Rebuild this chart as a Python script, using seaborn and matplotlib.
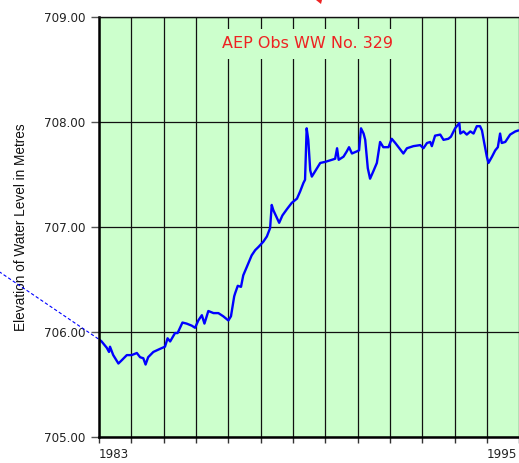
import matplotlib
matplotlib.use("Agg")
import matplotlib.pyplot as plt
from matplotlib.patches import Polygon
import pandas as pd
import seaborn as sns

# Observation well hydrograph (decimal year, water level elevation in metres)
years = [
    1983.00, 1983.08, 1983.24, 1983.31, 1983.34, 1983.44, 1983.60, 1983.70, 1983.86, 1984.01,
    1984.17, 1984.27, 1984.37, 1984.44, 1984.52, 1984.68, 1984.89, 1985.04, 1985.12, 1985.20,
    1985.35, 1985.43, 1985.58, 1985.71, 1985.87, 1985.97, 1986.07, 1986.18, 1986.26, 1986.38,
    1986.54, 1986.69, 1986.84, 1987.00, 1987.08, 1987.18, 1987.21, 1987.29, 1987.39, 1987.46,
    1987.57, 1987.72, 1987.83, 1987.93, 1988.08, 1988.19, 1988.29, 1988.34, 1988.39, 1988.57,
    1988.67, 1988.81, 1988.96, 1989.12, 1989.22, 1989.32, 1989.37, 1989.42, 1989.47, 1989.53,
    1989.58, 1989.68, 1989.84, 1989.99, 1990.20, 1990.30, 1990.36, 1990.41, 1990.56, 1990.66,
    1990.73, 1990.82, 1990.97, 1991.04, 1991.10, 1991.18, 1991.23, 1991.31, 1991.38, 1991.48,
    1991.59, 1991.69, 1991.79, 1991.95, 1992.05, 1992.16, 1992.41, 1992.52, 1992.72, 1992.93,
    1993.03, 1993.14, 1993.24, 1993.29, 1993.39, 1993.55, 1993.65, 1993.80, 1993.88, 1994.01,
    1994.14, 1994.17, 1994.27, 1994.37, 1994.48, 1994.58, 1994.68, 1994.78, 1994.84, 1994.91,
    1994.99, 1995.04, 1995.15, 1995.25, 1995.33, 1995.40, 1995.45, 1995.56, 1995.71, 1995.87,
    1995.97,
]
elevation = [
    705.93, 705.91, 705.85, 705.81, 705.86, 705.78, 705.70, 705.73, 705.78, 705.78,
    705.80, 705.76, 705.75, 705.69, 705.76, 705.81, 705.84, 705.86, 705.94, 705.91,
    705.99, 705.99, 706.09, 706.08, 706.06, 706.04, 706.11, 706.16, 706.08, 706.20,
    706.18, 706.18, 706.15, 706.11, 706.15, 706.34, 706.37, 706.44, 706.43, 706.54,
    706.62, 706.73, 706.78, 706.81, 706.86, 706.91, 706.99, 707.21, 707.16, 707.04,
    707.11, 707.17, 707.23, 707.27, 707.34, 707.42, 707.45, 707.94, 707.83, 707.54,
    707.48, 707.53, 707.61, 707.62, 707.64, 707.65, 707.75, 707.64, 707.67, 707.72,
    707.76, 707.70, 707.72, 707.73, 707.94, 707.89, 707.83, 707.56, 707.46, 707.53,
    707.61, 707.81, 707.76, 707.76, 707.84, 707.80, 707.70, 707.75, 707.77, 707.78,
    707.75, 707.80, 707.81, 707.77, 707.87, 707.88, 707.83, 707.84, 707.86, 707.94,
    707.99, 707.89, 707.91, 707.88, 707.91, 707.89, 707.96, 707.96, 707.92, 707.80,
    707.67, 707.61, 707.67, 707.73, 707.76, 707.89, 707.80, 707.81, 707.88, 707.91,
    707.92,
]

# Backward projection of the trend before the first reading
trend_years = [1979.6, 1983.0]
trend_elev = [706.64, 705.93]

year_ticks = list(range(1983, 1997))
labelled_years = [1983, 1995]
elev_ticks = [705.0, 706.0, 707.0, 708.0, 709.0]
elev_labels = ["705.00", "706.00", "707.00", "708.00", "709.00"]
title_text = "AEP Obs WW No. 329"
ylabel_text = "Elevation of Water Level in Metres"

sns.set_style("white")
plt.rcParams["font.family"] = ["DejaVu Sans"]

fig = plt.figure(figsize=(5.19, 4.63), dpi=100)
fig.patch.set_facecolor("white")
ax = fig.add_axes([99 / 519, 26 / 463, 420.5 / 519, 420 / 463])
ax.set_facecolor("#CCFFCC")

df = pd.DataFrame({"year": years, "elevation": elevation})
sns.lineplot(data=df, x="year", y="elevation", ax=ax, color="#0000FF",
             linewidth=1.7, sort=False, estimator=None, zorder=2.5)

ax.plot(trend_years, trend_elev, color="#0000FF", linewidth=0.8,
        linestyle=(0, (3, 2)), clip_on=False, zorder=2.4)

ax.set_xlim(1983, 1996)
ax.set_ylim(705, 709)

ax.set_xticks(year_ticks)
ax.set_xticklabels([str(y) if y in labelled_years else "" for y in year_ticks])
for lbl in ax.get_xticklabels():
    lbl.set_horizontalalignment("left")
ax.set_yticks(elev_ticks)
ax.set_yticklabels(elev_labels)

ax.tick_params(axis="x", direction="out", length=4, width=1, color="#333333",
               pad=4, labelsize=8.6, labelcolor="#222222", bottom=True)
ax.tick_params(axis="y", direction="out", length=6, width=1, color="#555555",
               pad=4, labelsize=8.6, labelcolor="#222222", left=True)

ax.grid(True, color="#111111", linewidth=0.9)
ax.set_axisbelow(True)

for side in ["left", "bottom"]:
    ax.spines[side].set_color("black")
    ax.spines[side].set_linewidth(1.8)
ax.spines["top"].set_color("#111111")
ax.spines["top"].set_linewidth(1.0)
ax.spines["right"].set_visible(False)

ax.set_xlabel("")
ax.set_ylabel(ylabel_text, fontsize=9.8, family=["Liberation Sans", "DejaVu Sans"],
              color="#111111")
ax.yaxis.set_label_coords(-0.168, 0.5)

ax.text(0.497, 0.936, title_text, transform=ax.transAxes, ha="center", va="center",
        fontsize=11.5, color="#EE2222", family=["DejaVu Sans"], zorder=3,
        bbox=dict(boxstyle="square,pad=0.45", facecolor="#CCFFCC", edgecolor="none"))

# small red pointer at the top edge
fig.add_artist(Polygon([[316 / 519, 1.0], [322 / 519, 1.0], [321 / 519, 1 - 4 / 463]],
                       closed=True, transform=fig.transFigure, facecolor="#EE2222",
                       edgecolor="none"))

fig.savefig("out.png", dpi=100, facecolor="white")
